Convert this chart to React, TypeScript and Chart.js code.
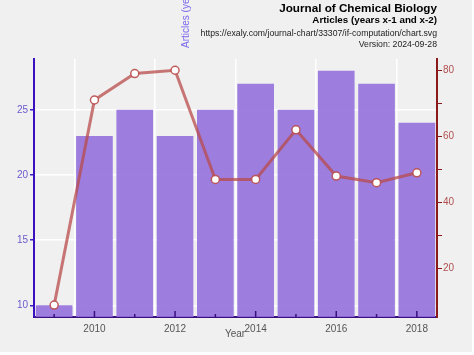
import React, { useEffect, useRef } from "react";
import { Chart, registerables } from "chart.js";

Chart.register(...registerables);

const years = ["2009", "2010", "2011", "2012", "2013", "2014", "2015", "2016", "2017", "2018"];
const articles = [10, 23, 25, 23, 25, 27, 25, 28, 27, 24];
const secondSeries = [9, 71, 79, 80, 47, 47, 62, 48, 46, 49];
const leftTicks = [10, 15, 20, 25];
const rightTicks = [20, 30, 40, 50, 60, 70, 80];

const titleText = "Journal of Chemical Biology";
const subtitleText = "Articles (years x-1 and x-2)";
const urlText = "https://exaly.com/journal-chart/33307/if-computation/chart.svg";
const versionText = "Version: 2024-09-28";
const yTitle = "Articles (years x-1 and x-2)";
const xTitle = "Year";

const FONT = "'Liberation Sans', Arial, sans-serif";

export default function App() {
  const ref = useRef<HTMLCanvasElement | null>(null);

  useEffect(() => {
    document.body.style.margin = "0";
    const canvas = ref.current!;
    const deco = {
      id: "deco",
      beforeDraw(chart: any) {
        const ctx = chart.ctx;
        ctx.save();
        ctx.fillStyle = "#ffffff";
        ctx.fillRect(0, 0, chart.width, chart.height);
        ctx.fillStyle = "#f0f0f0";
        ctx.fillRect(0, 0, 472, 352);
        ctx.restore();
      },
      afterDatasetsDraw(chart: any) {
        const ctx = chart.ctx;
        const x = chart.scales.x;
        const area = chart.chartArea;
        ctx.save();
        ctx.strokeStyle = "#3a1080";
        ctx.lineWidth = 1.5;
        years.forEach((y, i) => {
          const px = x.getPixelForValue(i);
          const len = parseInt(y) % 2 === 0 ? 6 : 3;
          ctx.beginPath();
          ctx.moveTo(px, area.bottom);
          ctx.lineTo(px, area.bottom - len);
          ctx.stroke();
        });
        ctx.restore();
      },
      afterDraw(chart: any) {
        const ctx = chart.ctx;
        const right = 437;
        ctx.save();
        ctx.textAlign = "right";
        ctx.textBaseline = "alphabetic";
        ctx.fillStyle = "#000";
        ctx.font = `bold 11.7px ${FONT}`;
        ctx.fillText(titleText, right, 11.5);
        ctx.font = `bold 9.8px ${FONT}`;
        ctx.fillText(subtitleText, right, 22.5);
        ctx.fillStyle = "#222";
        ctx.font = `8.7px ${FONT}`;
        ctx.fillText(urlText, right, 35.5);
        ctx.fillText(versionText, right, 46.5);
        // y title
        ctx.save();
        ctx.translate(188.5, 48);
        ctx.rotate(-Math.PI / 2);
        ctx.textAlign = "left";
        ctx.fillStyle = "#7b68ee";
        ctx.font = `10px ${FONT}`;
        ctx.fillText(yTitle, 0, 0);
        ctx.restore();
        // x title
        ctx.textAlign = "center";
        ctx.fillStyle = "#555";
        ctx.font = `10px ${FONT}`;
        ctx.fillText(xTitle, 235, 337);
        ctx.restore();
      },
    };

    const chart = new Chart(canvas, {
      type: "bar",
      data: {
        labels: years,
        datasets: [
          {
            type: "line",
            data: secondSeries,
            yAxisID: "y2",
            borderColor: "rgba(185,75,75,0.75)",
            backgroundColor: "#ffffff",
            borderWidth: 3,
            pointRadius: 4,
            pointBorderWidth: 1.5,
            pointBackgroundColor: "#ffffff",
            pointBorderColor: "rgba(185,75,75,0.9)",
            order: 0,
          } as any,
          {
            type: "bar",
            data: articles,
            yAxisID: "y",
            backgroundColor: "rgba(147,112,219,0.9)",
            barPercentage: 0.91,
            categoryPercentage: 1,
            order: 1,
          },
        ],
      },
      options: {
        animation: false,
        responsive: false,
        layout: { padding: { top: 59, left: 0, right: 0, bottom: 0 } },
        plugins: { legend: { display: false }, tooltip: { enabled: false } },
        scales: {
          x: {
            type: "category",
            offset: true,
            afterFit(s: any) {
              s.height = 38;
            },
            grid: {
              drawTicks: false,
              color: (c: any) => (c.tick && parseInt(c.tick.label || "0") ? "rgba(255,255,255,1)" : "rgba(0,0,0,0)"),
              lineWidth: 1.5,
            },
            border: { color: "#3a1080", width: 2 },
            ticks: {
              autoSkip: false,
              maxRotation: 0,
              padding: 6,
              color: "#555",
              font: { size: 10, family: FONT },
              callback: (v: any, i: number) => (parseInt(years[i]) % 2 === 0 ? years[i] : ""),
            },
          },
          y: {
            position: "left",
            min: 9.1,
            max: 28.9,
            afterFit(s: any) {
              s.width = 34;
            },
            afterBuildTicks(s: any) {
              s.ticks = leftTicks.map((v) => ({ value: v }));
            },
            grid: { color: "#ffffff", lineWidth: 1.5, tickColor: "#4020c0", tickLength: 4 },
            border: { color: "#3a10c0", width: 2 },
            ticks: { color: "#6a5acd", font: { size: 10, family: FONT }, padding: 2 },
          },
          y2: {
            position: "right",
            min: 5.4,
            max: 83.4,
            afterFit(s: any) {
              s.width = 37;
            },
            afterBuildTicks(s: any) {
              s.ticks = rightTicks.map((v) => ({ value: v }));
            },
            grid: { drawOnChartArea: false, tickColor: "#8b1a1a", tickLength: 5 },
            border: { color: "#8b1a1a", width: 2 },
            ticks: {
              color: "#b05050",
              font: { size: 10, family: FONT },
              padding: 1,
              callback: (v: any) => (v % 20 === 0 ? String(v) : ""),
            },
          },
        },
      },
      plugins: [deco],
    });
    return () => chart.destroy();
  }, []);

  return <canvas ref={ref} width={474} height={355} style={{ display: "block" }} />;
}
